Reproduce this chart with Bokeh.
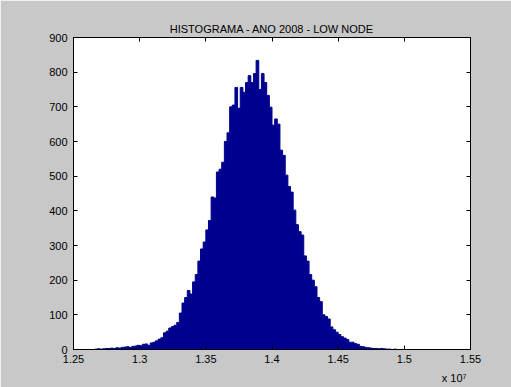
from bokeh.plotting import figure
from bokeh.models import FixedTicker, LinearAxis, Range1d, ColumnDataSource, Title
from bokeh.embed import file_html
from bokeh.resources import INLINE

title_text = "HISTOGRAMA - ANO 2008 - LOW NODE"
multiplier_text = "x 10\u2077"
# bins in units of 1e7
bin_start = 1.266
bin_width = 0.002
counts = [
    1, 2, 1, 2, 3, 3, 4, 3, 5, 4,
    6, 7, 8, 6, 9, 10, 12, 11, 15, 16,
    12, 19, 21, 25, 30, 34, 48, 53, 62, 66,
    70, 78, 105, 134, 150, 170, 160, 195, 216, 255,
    290, 310, 345, 372, 440, 437, 512, 520, 540, 600,
    625, 700, 705, 756, 696, 756, 742, 770, 790, 770,
    796, 834, 750, 796, 770, 733, 699, 647, 665, 650,
    575, 560, 503, 470, 454, 402, 360, 340, 330, 270,
    255, 216, 200, 181, 150, 138, 100, 95, 88, 65,
    57, 50, 43, 37, 33, 29, 21, 21, 17, 15,
    9, 8, 6, 5, 4, 3, 3, 2, 3, 2,
    1, 1, 0, 1, 0, 0,
]
x_ticks = [1.25, 1.3, 1.35, 1.4, 1.45, 1.5, 1.55]
x_tick_labels = ["1.25", "1.3", "1.35", "1.4", "1.45", "1.5", "1.55"]
y_ticks = [0, 100, 200, 300, 400, 500, 600, 700, 800, 900]

# step outline of the histogram: left edges plus the closing right edge
edges = [bin_start + i * bin_width for i in range(len(counts) + 1)]
heights = counts + [0]
src = ColumnDataSource(dict(x=edges, top=heights, base=[0] * len(edges)))

FONT = "Liberation Sans"
BG = "#C8C8C8"
BAR = "#00008F"

p = figure(width=511, height=387, output_backend="svg", toolbar_location=None,
           x_range=Range1d(1.25, 1.55), y_range=Range1d(0, 900),
           min_border_left=73, min_border_right=41, min_border_top=37, min_border_bottom=37,
           x_axis_location=None, y_axis_location=None)
p.background_fill_color = "white"
p.border_fill_color = BG
p.outline_line_color = "black"
p.outline_line_width = 1
p.grid.visible = False

p.varea_step(x="x", y1="base", y2="top", step_mode="after", source=src, fill_color=BAR)
p.step(x="x", y="top", mode="after", source=src, line_color=BAR, line_width=1)

def mk_axis(ticks, labels=None, show=True):
    ax = LinearAxis(ticker=FixedTicker(ticks=ticks))
    ax.major_tick_in = 4
    ax.major_tick_out = 0
    ax.minor_tick_line_color = None
    ax.axis_line_color = "black"
    ax.major_tick_line_color = "black"
    ax.major_label_text_font = FONT
    ax.major_label_text_color = "black"
    ax.major_label_text_font_size = "11px"
    if show:
        ax.major_label_overrides = {t: s for t, s in zip(ticks, labels)}
    else:
        ax.major_label_overrides = {t: "" for t in ticks}
        ax.major_label_standoff = 0
    return ax

# panels: first added sits nearest the frame
p.add_layout(mk_axis(x_ticks, show=False), "above")
p.add_layout(Title(text=title_text, align="center", text_font=FONT, text_font_size="11px",
                   text_font_style="normal", text_color="black", standoff=6, offset=-3), "above")

xb = mk_axis(x_ticks, x_tick_labels)
xb.major_label_standoff = 5
p.add_layout(xb, "below")
p.add_layout(Title(text=multiplier_text, align="right", text_font=FONT, text_font_size="11px",
                   text_font_style="normal", text_color="black", standoff=8, offset=4), "below")

yl = mk_axis(y_ticks, [str(v) for v in y_ticks])
yl.major_label_standoff = 6
p.add_layout(yl, "left")
p.add_layout(mk_axis(y_ticks, show=False), "right")

open("out.html", "w").write(file_html(p, INLINE))
